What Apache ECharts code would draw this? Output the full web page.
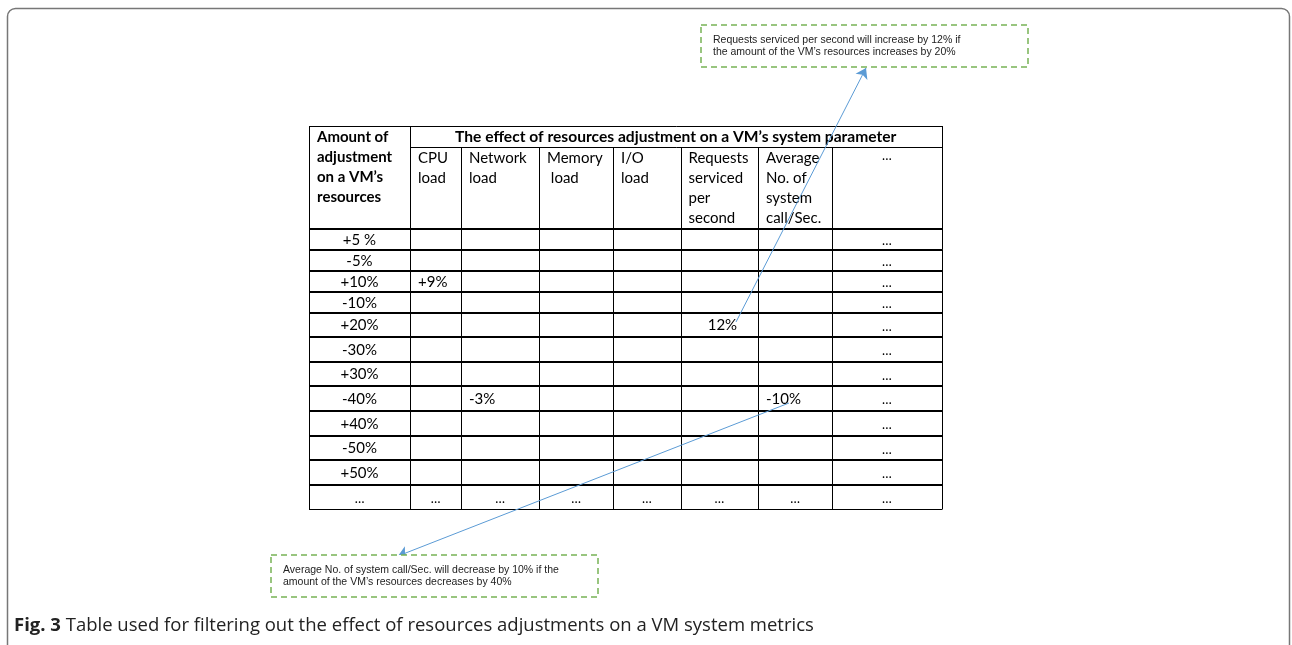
<!DOCTYPE html>
<html><head><meta charset="utf-8">
<script src="https://cdn.jsdelivr.net/npm/echarts@6/dist/echarts.min.js"></script>
<style>html,body{margin:0;padding:0;background:#fff}#c{width:1292px;height:645px}</style>
</head><body><div id="c"></div>
<script>
// ---------- DATA ----------
const rowLabels = ['+5 %', '-5%', '+10%', '-10%', '+20%', '-30%', '+30%', '-40%', '+40%', '-50%', '+50%', '…'];
const stubHeader = 'Amount of\nadjustment\non a VM’s\nresources';
const headerTitle = 'The effect of resources adjustment on a VM’s system parameter';
const colHeaders = ['CPU\nload', 'Network\nload', 'Memory\n load', 'I/O\nload', 'Requests\nserviced\nper\nsecond', 'Average\nNo. of\nsystem\ncall/Sec.', '…'];
// [rowIndex, colIndex, text]
const cellValues = [[2, 0, '+9%'], [4, 4, '     12%'], [7, 1, '-3%'], [7, 5, '-10%']];
const ellipsis = '…';
const calloutTop = 'Requests serviced per second will increase by 12% if\nthe amount of the VM’s resources increases by 20%';
const calloutBottom = 'Average No. of system call/Sec. will decrease by 10% if the\namount of the VM’s resources decreases by 40%';
const captionBold = 'Fig. 3';
const captionText = ' Table used for filtering out the effect of resources adjustments on a VM system metrics';

// ---------- LAYOUT ----------
const COL_EDGES = [309, 410, 461, 539, 613, 680.5, 758, 832, 941.5];
const ROW_EDGES = [126, 147, 229, 249.5, 271, 292, 313, 337, 362, 386, 411, 436, 460, 485, 509];
const PAD = 8;
const FONT = 'Lato, "Open Sans", sans-serif';
const ARROW_TOP = [[736, 322], [866, 68]];
const ARROW_BOTTOM = [[789, 403], [398, 556]];

// build cells
const cells = [];
cells.push({c0: 0, c1: 1, r0: 0, r1: 2, text: stubHeader, bold: true, align: 'left', vtop: true, thick: true});
cells.push({c0: 1, c1: 8, r0: 0, r1: 1, text: headerTitle, bold: true, align: 'center', big: true});
colHeaders.forEach((h, i) => {
  cells.push({c0: i + 1, c1: i + 2, r0: 1, r1: 2, text: h, align: i === colHeaders.length - 1 ? 'center' : 'left', vtop: true, thick: true, small: h === ellipsis});
});
rowLabels.forEach((lab, r) => {
  const last = r === rowLabels.length - 1;
  for (let c = 0; c < 8; c++) {
    let text = '', align = 'left';
    if (c === 0) { text = lab; align = 'center'; }
    else if (last || c === 7) { text = ellipsis; align = 'center'; }
    else {
      const v = cellValues.find(d => d[0] === r && d[1] === c - 1);
      if (v) text = v[2];
    }
    cells.push({c0: c, c1: c + 1, r0: r + 2, r1: r + 3, text, align, thick: !last, small: text === ellipsis});
  }
});

const chart = echarts.init(document.getElementById('c'), null, {renderer: 'canvas'});

function renderCell(params, api) {
  const d = cells[params.dataIndex];
  const p0 = api.coord([COL_EDGES[d.c0], ROW_EDGES[d.r0]]);
  const p1 = api.coord([COL_EDGES[d.c1], ROW_EDGES[d.r1]]);
  const children = [];
  children.push({type: 'line', shape: {x1: Math.round(p1[0]) + 0.5, y1: p0[1], x2: Math.round(p1[0]) + 0.5, y2: p1[1]}, style: {stroke: '#000', lineWidth: 1}});
  const lw = d.thick ? 2 : 1;
  const yb = d.thick ? Math.round(p1[1]) : Math.round(p1[1]) + 0.5;
  children.push({type: 'line', shape: {x1: p0[0], y1: yb, x2: p1[0] + 1, y2: yb}, style: {stroke: '#000', lineWidth: lw}});
  if (d.c0 === 0) children.push({type: 'line', shape: {x1: Math.round(p0[0]) + 0.5, y1: p0[1], x2: Math.round(p0[0]) + 0.5, y2: p1[1]}, style: {stroke: '#000', lineWidth: 1}});
  if (d.r0 === 0) children.push({type: 'line', shape: {x1: p0[0], y1: Math.round(p0[1]) + 0.5, x2: p1[0] + 1, y2: Math.round(p0[1]) + 0.5}, style: {stroke: '#000', lineWidth: 1}});
  if (d.text) {
    const x = d.align === 'left' ? p0[0] + PAD : (p0[0] + p1[0]) / 2;
    let y = d.vtop ? p0[1] + 1 : (p0[1] + p1[1]) / 2 + 0.5;
    if (d.small) y += d.vtop ? -2 : 1;
    children.push({
      type: 'text',
      style: {
        text: d.text, x, y,
        fill: '#000',
        fontFamily: FONT,
        fontSize: d.small ? 13 : (d.big ? 15.6 : 15),
        fontWeight: d.bold ? 'bold' : 'normal',
        lineHeight: 20,
        align: d.align,
        verticalAlign: d.vtop ? 'top' : 'middle'
      }
    });
  }
  return {type: 'group', children};
}

const calloutStyle = (x, y, w, h, text) => ([
  {type: 'rect', shape: {x, y, width: w, height: h}, style: {fill: '#fff', stroke: '#77b255', lineWidth: 1.5, lineDash: [6, 4]}, z: 10},
  {type: 'text', x: x + 12, y: y + 9, style: {text, fill: '#222', fontFamily: '"Liberation Sans", Arial, sans-serif', fontSize: 10.5, lineHeight: 12}, z: 11}
]);

chart.setOption({
  animation: false,
  grid: {left: 0, right: 0, top: 0, bottom: 0},
  xAxis: {type: 'value', min: 0, max: 1292, show: false},
  yAxis: {type: 'value', min: 0, max: 645, inverse: true, show: false},
  graphic: [
    {type: 'rect', shape: {x: 7.5, y: 8.5, width: 1282, height: 700, r: 8}, style: {fill: 'none', stroke: '#777', lineWidth: 1.5}},
    ...calloutStyle(701, 25, 327, 42, calloutTop),
    ...calloutStyle(271, 555, 327, 42, calloutBottom),
    {type: 'text', x: 14, y: 616, style: {
      text: '{b|' + captionBold + '}{n|' + captionText + '}',
      rich: {
        b: {fontFamily: '"Open Sans", sans-serif', fontSize: 18.5, fontWeight: 'bold', fill: '#222'},
        n: {fontFamily: '"Open Sans", sans-serif', fontSize: 18.5, fill: '#222'}
      }
    }}
  ],
  series: [
    {
      type: 'custom',
      coordinateSystem: 'cartesian2d',
      renderItem: renderCell,
      data: cells.map((d, i) => [i, 0]),
      silent: true,
      z: 2
    },
    {
      type: 'lines',
      coordinateSystem: 'cartesian2d',
      symbol: ['none', 'arrow'],
      symbolSize: 10,
      lineStyle: {color: '#5b9bd5', width: 1, opacity: 1},
      data: [{coords: ARROW_TOP}, {coords: ARROW_BOTTOM}],
      silent: true,
      z: 5
    }
  ]
});
</script>
</body></html>
